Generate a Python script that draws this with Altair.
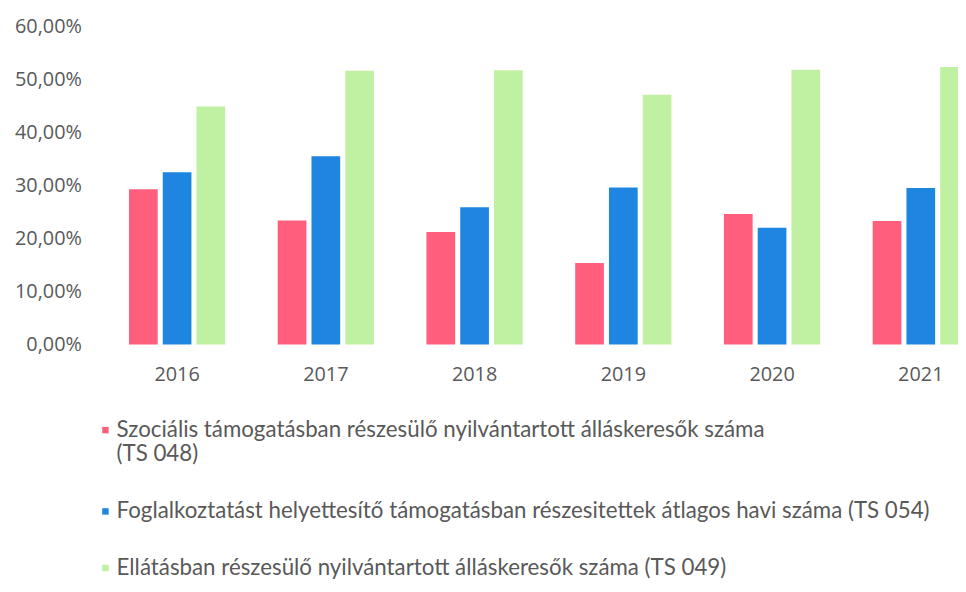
import altair as alt
import pandas as pd

years = ["2016", "2017", "2018", "2019", "2020", "2021"]
series = [
    "Szociális támogatásban részesülő nyilvántartott álláskeresők száma\n(TS 048)",
    "Foglalkoztatást helyettesítő támogatásban részesitettek átlagos havi száma (TS 054)",
    "Ellátásban részesülő nyilvántartott álláskeresők száma (TS 049)",
]
szocialis = [29.3, 23.4, 21.2, 15.4, 24.6, 23.3]
foglalkoztatas = [32.5, 35.5, 25.9, 29.6, 22.0, 29.5]
ellatas = [44.9, 51.6, 51.7, 47.1, 51.8, 52.3]
colors = ["#FF5E7D", "#1E86E0", "#C0F0A2"]
y_ticks = [0, 0.1, 0.2, 0.3, 0.4, 0.5, 0.6]

rows = []
for name, vals in zip(series, [szocialis, foglalkoztatas, ellatas]):
    for yr, v in zip(years, vals):
        rows.append({"year": yr, "series": name, "value": v / 100})
df = pd.DataFrame(rows)

text_color = "#595959"

chart = (
    alt.Chart(df)
    .mark_bar()
    .encode(
        x=alt.X(
            "year:N",
            sort=years,
            title=None,
            scale=alt.Scale(range=[0, 931], paddingInner=0.353, paddingOuter=0.28),
            axis=alt.Axis(
                labelAngle=0,
                ticks=False,
                domain=False,
                labelFont="Open Sans",
                labelFontSize=20,
                labelColor=text_color,
                labelPadding=20,
            ),
        ),
        xOffset=alt.XOffset("series:N", sort=series, scale=alt.Scale(paddingInner=0.15)),
        y=alt.Y(
            "value:Q",
            title=None,
            scale=alt.Scale(domain=[0, 0.6], nice=False),
            axis=alt.Axis(
                values=y_ticks,
                labelExpr="replace(format(datum.value, '.2%'), '.', ',')",
                ticks=False,
                domain=False,
                grid=False,
                labelFont="Open Sans",
                labelFontSize=20,
                labelColor=text_color,
                labelPadding=6,
            ),
        ),
        color=alt.Color(
            "series:N",
            sort=series,
            scale=alt.Scale(domain=series, range=colors),
            legend=alt.Legend(
                title=None,
                orient="none",
                direction="vertical",
                legendX=7,
                legendY=396,
                symbolType="square",
                symbolSize=42,
                symbolStrokeWidth=0,
                labelFont="Lato",
                labelFontSize=22.5,
                labelColor=text_color,
                labelLimit=0,
                labelOffset=0,
                rowPadding=34,
                padding=0,
                labelExpr="split(datum.label, '\\n')",
            ),
        ),
    )
    .properties(
        width=878,
        height=321,
        autosize=alt.AutoSizeParams(type="none"),
        padding={"left": 80, "top": 16, "right": 0, "bottom": 239},
    )
    .configure(background="white")
    .configure_view(stroke=None)
    .configure_axis(grid=False)
)

chart.save("out.html", embed_options={"renderer": "svg", "actions": False})
